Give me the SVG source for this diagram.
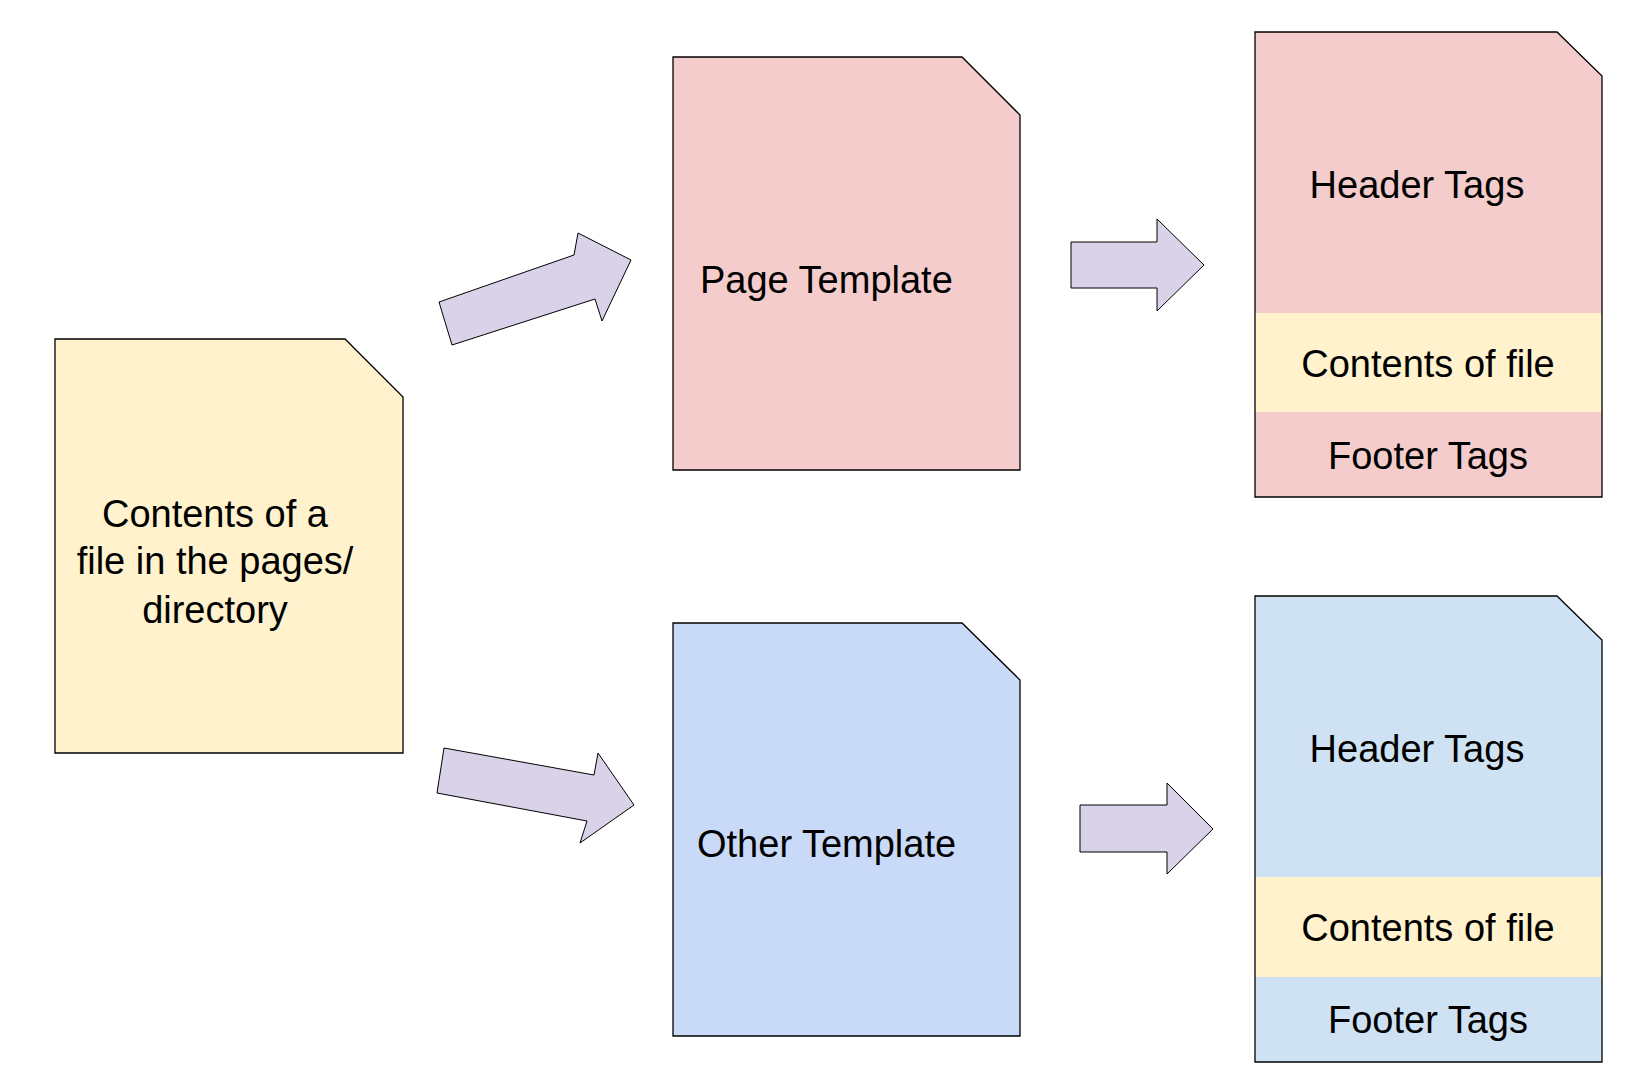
<svg xmlns="http://www.w3.org/2000/svg" width="1649" height="1088" viewBox="0 0 1649 1088">
<style>
.s{stroke:#000;stroke-width:1.3}
.a{fill:#d9d2e9;stroke:#000;stroke-width:1}
text{font-family:"Liberation Sans",Arial,sans-serif;font-size:38px;fill:#000}
.c{text-anchor:middle}
</style>
<rect width="1649" height="1088" fill="#fff"/>
<g id="source">
<path class="s" fill="#fff2cc" d="M55,339H345L403,397V753H55Z"/>
<text class="c" x="215" y="527">Contents of a</text>
<text class="c" x="215" y="574">file in the pages/</text>
<text class="c" x="215" y="623">directory</text>
</g>
<g id="page-template">
<path class="s" fill="#f4cccc" d="M673,57H962L1020,115V470H673Z"/>
<text x="700" y="293">Page Template</text>
</g>
<g id="other-template">
<path class="s" fill="#c9daf8" d="M673,623H962L1020,680V1036H673Z"/>
<text x="697" y="857">Other Template</text>
</g>
<g id="result-top">
<path fill="#f4cccc" d="M1255,32H1557L1602,76V497H1255Z"/>
<rect x="1255" y="313" width="347" height="99" fill="#fff2cc"/>
<path class="s" fill="none" d="M1255,32H1557L1602,76V497H1255Z"/>
<text class="c" x="1417" y="198">Header Tags</text>
<text class="c" x="1428" y="377">Contents of file</text>
<text class="c" x="1428" y="469">Footer Tags</text>
</g>
<g id="result-bottom">
<path fill="#cfe2f3" d="M1255,596H1557L1602,640V1062H1255Z"/>
<rect x="1255" y="877" width="347" height="100" fill="#fff2cc"/>
<path class="s" fill="none" d="M1255,596H1557L1602,640V1062H1255Z"/>
<text class="c" x="1417" y="762">Header Tags</text>
<text class="c" x="1428" y="941">Contents of file</text>
<text class="c" x="1428" y="1033">Footer Tags</text>
</g>
<g id="connectors">
<polygon class="a" points="439,302 452,345 595,299 602,321 631,260 578,233 574,255"/>
<polygon class="a" points="1071,242 1157,242 1157,219 1204,265 1157,311 1157,288 1071,288"/>
<polygon class="a" points="444,748 437,793 587,821 580,843 634,805 598,753 594,775"/>
<polygon class="a" points="1080,805 1167,805 1167,783 1213,829 1167,874 1167,852 1080,852"/>
</g>
</svg>
